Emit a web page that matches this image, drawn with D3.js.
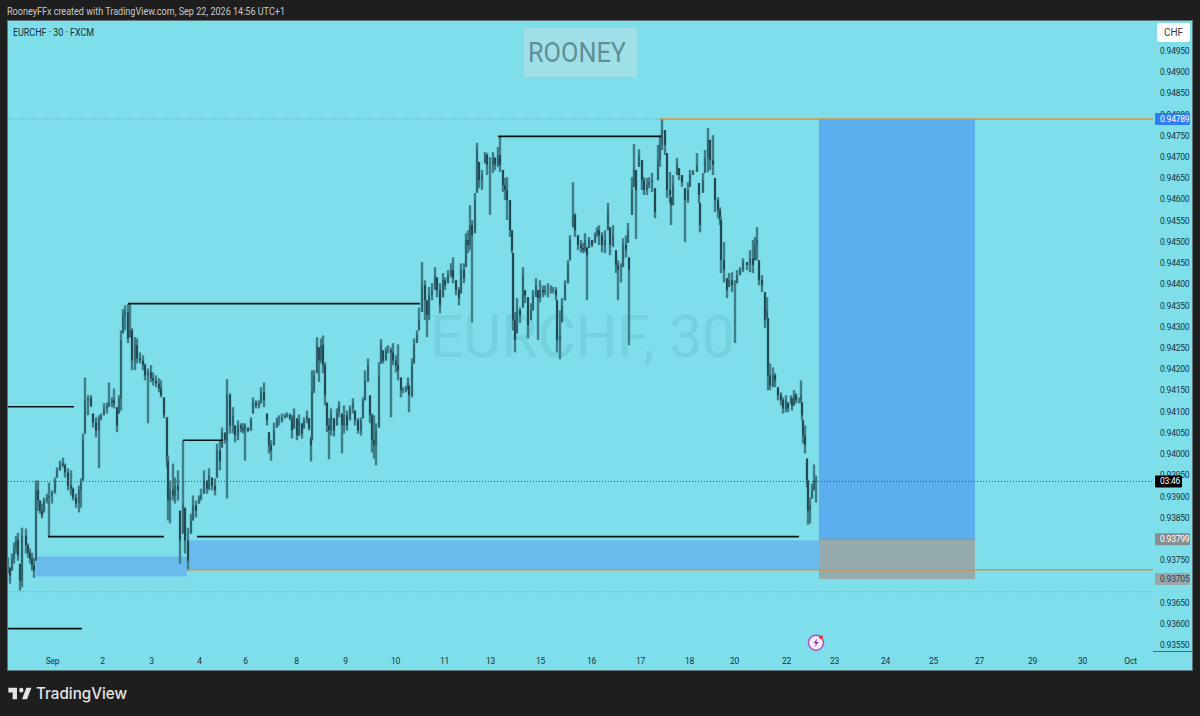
<!DOCTYPE html>
<html>
<head>
<meta charset="utf-8">
<title>EURCHF 30</title>
<script src="https://cdn.jsdelivr.net/npm/d3@7"></script>
<style>
  html, body { margin: 0; padding: 0; background: #1e1e1e; }
  svg { display: block; }
  text { font-family: Roboto, sans-serif; }
  .axis text { font-size: 8.5px; letter-spacing: -0.22px; fill: #16343b; }
  .axis path, .axis line { display: none; }
</style>
</head>
<body>
<div id="chart"></div>
<script>
// 30 minute EURCHF bars, prices in 1e-5 units
var barIndex = [
  0,2,4,6,8,10,12,14,18,20,
  22,24,26,28,30,32,34,36,39,41,
  44,47,49,52,55,57,60,63,65,68,
  71,73,75,77,80,83,85,88,91,93,
  96,99,101,104,106,109,111,113,115,117,
  120,122,124,127,129,132,135,137,140,143,
  145,148,151,153,156,159,160,162,165,167,
  170,172,175,177,180,183,185,188,191,193,
  196,199,201,204,207,209,212,214,217,219,
  222,225,227,230,233,235,237,240,243,245,
  248,251,253,256,259,261,263,266,269,271,
  274,277,279,282,284,286,289,291,294,296,
  299,301,303,304,306,309,311,313,315,317,
  319,321,323,326,329,331,334,336,339,342,
  345,347,350,353,355,357,360,362,364,366,
  368,371,373,375,378,380,383,385,388,390,
  393,395,398,400,401,404,406,409,411,414,
  417,419,421,424,427,429,432,435,437,440,
  443,445,448,451,453,456,458,460,462,464,
  467,469,471,474,477,479,482,485,487,490,
  492,495,497,499,502,504,505,507,509,512,
  515,517,520,523,525,528,530,532,535,537,
  540,543,545,548,549,552,554,557,560,562,
  565,567,570,573,575,577,579,581,584,587,
  589,591,594,597,600,602,605,608,610,613,
  615,618,620,621,624,626,628,631,634,636,
  639,641,644,647,650,652,654,657,659,662,
  663,665,669,671,674,677,680,682,685,689,
  691,692,695,697,700,702,705,707,710,712,
  713,716,719,721,724,727,729,732,735,739,
  742,745,747,749,751,754,757,759,760,762,
  765,767,770,773,775,778,780,783,784,786,
  788,791,793,794,795,797,799,800,802,804,
  806,808
];
var highs = [
  93756,93732,93765,93791,93807,93814,93741,93826,93824,93789,
  93777,93767,93755,93937,93937,93890,93883,93897,93906,93932,
  93914,93944,93968,93984,93991,93977,93966,93961,93921,93906,
  93925,93942,94048,94180,94138,94138,94095,94086,94091,94095,
  94119,94121,94168,94133,94154,94110,94138,94291,94341,94350,
  94353,94353,94296,94275,94272,94239,94232,94213,94201,94209,
  94192,94185,94178,94173,94133,94086,93996,93937,93977,93944,
  93961,93866,94032,93873,93826,93859,93902,93890,93902,93918,
  93961,93937,93966,93944,93942,94024,94032,94062,94050,94176,
  94143,94110,94067,94079,94072,94072,94072,94062,94086,94133,
  94126,94126,94157,94168,94095,94051,94032,94074,94086,94091,
  94095,94095,94098,94095,94091,94107,94084,94093,94072,94086,
  94102,94084,94039,94197,94197,94275,94251,94272,94279,94216,
  94121,94084,94107,94084,94107,94124,94095,94114,94102,94114,
  94131,94102,94084,94086,94133,94197,94225,94138,94095,94091,
  94072,94216,94270,94244,94251,94256,94251,94261,94232,94258,
  94180,94157,94161,94180,94161,94225,94272,94291,94345,94452,
  94409,94362,94393,94402,94440,94416,94402,94426,94416,94433,
  94449,94463,94409,94393,94449,94449,94520,94527,94586,94551,
  94615,94733,94688,94669,94711,94709,94699,94711,94699,94723,
  94747,94669,94650,94652,94598,94527,94473,94334,94367,94345,
  94440,94386,94369,94355,94386,94414,94386,94409,94397,94397,
  94402,94397,94393,94393,94362,94338,94367,94409,94456,94515,
  94640,94567,94515,94504,94497,94520,94487,94511,94504,94522,
  94534,94539,94522,94527,94591,94534,94539,94480,94456,94449,
  94508,94515,94544,94463,94652,94730,94669,94718,94692,94652,
  94650,94652,94662,94626,94728,94751,94789,94763,94709,94664,
  94605,94657,94697,94673,94657,94626,94640,94669,94669,94709,
  94638,94591,94662,94716,94768,94740,94751,94650,94605,94581,
  94558,94499,94414,94426,94428,94409,94433,94440,94461,94452,
  94480,94504,94511,94534,94456,94421,94381,94369,94320,94213,
  94204,94190,94157,94145,94133,94138,94121,94138,94131,94150,
  94143,94133,94173,94121,94079,94067,93989,93937,93897,93930,
  93975,93949
];
var lows = [
  93718,93694,93725,93741,93765,93748,93678,93685,93765,93755,
  93741,93725,93708,93748,93866,93859,93848,93862,93883,93807,
  93883,93906,93944,93961,93968,93944,93914,93902,93890,93873,
  93862,93873,93937,94048,94091,94110,94062,94039,93966,94079,
  94091,94095,94110,94110,94107,94051,94095,94102,94284,94291,
  94261,94275,94197,94197,94213,94213,94197,94173,94072,94169,
  94161,94157,94145,94133,94084,93968,93843,93836,93890,93883,
  93890,93741,93812,93765,93725,93812,93843,93850,93883,93890,
  93906,93906,93914,93914,93902,93944,93961,94015,94024,93895,
  94048,94048,94027,94032,94051,94048,93984,94051,94055,94095,
  94107,94107,94119,94110,94067,94001,93984,94020,94062,94067,
  94074,94084,94086,94079,94036,94060,94032,94043,94036,94060,
  94072,94055,93982,94032,94143,94190,94169,94213,94190,94114,
  94051,93987,94043,94041,94067,94086,94001,94048,94055,94079,
  94095,94067,94048,94043,94084,94126,94169,94072,94003,93989,
  93973,94062,94213,94213,94220,94237,94086,94209,94192,94173,
  94133,94143,94145,94150,94098,94133,94213,94261,94291,94334,
  94315,94275,94315,94362,94386,94369,94331,94369,94386,94402,
  94416,94402,94374,94350,94378,94402,94440,94473,94480,94310,
  94520,94615,94626,94622,94685,94657,94563,94662,94669,94676,
  94664,94617,94598,94551,94511,94473,94291,94239,94284,94308,
  94345,94355,94272,94315,94338,94369,94268,94357,94369,94374,
  94369,94378,94378,94362,94239,94223,94310,94362,94402,94456,
  94534,94511,94480,94475,94473,94475,94362,94485,94487,94497,
  94511,94492,94475,94473,94527,94468,94487,94426,94362,94404,
  94440,94463,94497,94256,94563,94629,94506,94676,94622,94610,
  94610,94626,94617,94555,94645,94676,94716,94704,94603,94591,
  94539,94586,94657,94645,94629,94499,94591,94629,94657,94664,
  94591,94522,94615,94662,94664,94669,94657,94570,94555,94539,
  94426,94404,94367,94393,94381,94261,94402,94421,94428,94433,
  94428,94426,94456,94456,94397,94381,94296,94320,94150,94150,
  94157,94157,94126,94114,94095,94098,94098,94119,94102,94114,
  94119,94119,94119,94079,94024,94001,93921,93833,93836,93895,
  93914,93885
];
var closes = [
  93737,93713,93753,93777,93796,93760,93701,93807,93784,93767,
  93753,93737,93725,93914,93890,93866,93855,93890,93897,93902,
  93909,93937,93961,93977,93973,93956,93925,93918,93897,93883,
  93914,93932,94032,94126,94131,94114,94074,94055,94084,94091,
  94107,94114,94121,94126,94119,94067,94131,94268,94327,94334,
  94272,94291,94220,94256,94225,94220,94209,94185,94192,94178,
  94173,94166,94154,94138,94091,93984,93890,93914,93902,93925,
  93914,93796,93880,93796,93748,93843,93878,93866,93895,93902,
  93937,93918,93949,93925,93914,94008,93984,94050,94032,94138,
  94067,94091,94043,94067,94060,94055,94067,94055,94079,94121,
  94114,94119,94145,94126,94079,94020,94008,94055,94079,94079,
  94084,94088,94091,94084,94055,94091,94043,94079,94048,94079,
  94091,94060,94020,94150,94185,94256,94220,94256,94209,94138,
  94067,94055,94091,94055,94098,94114,94067,94091,94067,94107,
  94119,94079,94055,94079,94126,94173,94209,94091,94032,94020,
  94055,94185,94256,94220,94244,94244,94239,94220,94209,94197,
  94150,94150,94154,94169,94138,94209,94256,94280,94315,94397,
  94362,94327,94374,94386,94421,94386,94350,94409,94397,94421,
  94433,94414,94386,94367,94433,94414,94504,94492,94539,94515,
  94598,94716,94645,94657,94704,94681,94681,94697,94681,94704,
  94681,94633,94622,94598,94527,94480,94315,94268,94338,94327,
  94421,94374,94303,94338,94374,94397,94367,94386,94381,94386,
  94386,94386,94386,94374,94268,94280,94350,94397,94445,94504,
  94563,94527,94492,94485,94480,94504,94468,94504,94492,94515,
  94527,94515,94492,94504,94574,94492,94515,94445,94433,94433,
  94492,94480,94527,94433,94622,94669,94622,94704,94645,94622,
  94633,94640,94645,94570,94692,94728,94763,94728,94622,94610,
  94586,94633,94681,94657,94640,94598,94622,94657,94664,94681,
  94610,94539,94645,94697,94740,94692,94681,94598,94574,94551,
  94456,94433,94386,94409,94397,94397,94421,94433,94452,94445,
  94461,94445,94492,94504,94409,94397,94315,94338,94185,94161,
  94185,94173,94138,94126,94107,94126,94107,94131,94114,94138,
  94126,94126,94138,94091,94043,94020,93937,93866,93878,93914,
  93937,93935
];

// axis labels
var priceTicks = [93550,93600,93650,93700,93750,93800,93850,93900,93950,94000,94050,94100,94150,94200,94250,94300,94350,94400,94450,94500,94550,94600,94650,94700,94750,94800,94850,94900,94950];
var dayBars = [44,94,143,191,237,288,337,387,436,482,532,583,632,681,726,778,826,877,925,971,1024,1074,1122];
var dayLabels = ["Sep","2","3","4","6","8","9","10","11","13","15","16","17","18","20","22","23","24","25","27","29","30","Oct"];

// drawings, [start bar, end bar, price]
var blackLevels = [
  [0, 66, 94111], [120, 412, 94354], [490, 653, 94748],
  [175, 215, 94032], [40, 156, 93805], [189, 791, 93805], [0, 74, 93588]
];
// zones, [start bar, end bar, top price, bottom price]
var zones = [[28, 179, 93758, 93711], [179, 811, 93796, 93727]];
var orangeLevels = [[652, 1145, 94789], [179, 1145, 93727]];
var dottedLevels = [[0, 652, 94789], [0, 1145, 93675]];
// long position tool
var positionBars = [811, 967];
var targetPrice = 94789, entryPrice = 93799, stopPrice = 93705;

var width = 1200, height = 716;
var svg = d3.select("#chart").append("svg").attr("width", width).attr("height", height);

var x = d3.scaleLinear().domain([0, 1145]).range([8, 1153]);
var y = d3.scaleLinear().domain([93550, 94950]).range([644.8, 50.7]);

// pane background
svg.append("rect").attr("x", 7.5).attr("y", 20.5).attr("width", 1185).attr("height", 650)
  .attr("fill", "#7edfeb").attr("stroke", "#5e7377");
svg.append("line").attr("x1", 1153).attr("x2", 1192).attr("y1", 651.5).attr("y2", 651.5).attr("stroke", "#3d6a75");

// header text
svg.append("text").attr("x", 7).attr("y", 15).attr("fill", "#c9c9c9").attr("font-size", 10.4)
  .attr("textLength", 278).attr("lengthAdjust", "spacingAndGlyphs")
  .text("RooneyFFx created with TradingView.com, Sep 22, 2026 14:56 UTC+1");
svg.append("text").attr("x", 13).attr("y", 35.5).attr("fill", "#12303a").attr("font-size", 10)
  .attr("textLength", 81).attr("lengthAdjust", "spacingAndGlyphs")
  .text("EURCHF · 30 · FXCM");

// watermarks
svg.append("text").attr("x", 430).attr("y", 357)
  .attr("textLength", 305).attr("lengthAdjust", "spacingAndGlyphs")
  .attr("fill", "#73d2dd").attr("font-size", 60).text("EURCHF, 30");
svg.append("rect").attr("x", 524).attr("y", 28).attr("width", 113).attr("height", 49).attr("fill", "#9fdfe8");
svg.append("text").attr("x", 528).attr("y", 61.5)
  .attr("textLength", 98).attr("lengthAdjust", "spacingAndGlyphs")
  .attr("fill", "#5f8e97").attr("font-size", 27).text("ROONEY");

// zones
svg.selectAll(".zone").data(zones).enter().append("rect")
  .attr("class", "zone")
  .attr("x", d => x(d[0])).attr("width", d => x(d[1]) - x(d[0]))
  .attr("y", d => y(d[2])).attr("height", d => y(d[3]) - y(d[2]))
  .attr("fill", "#69bbee");

// position tool
svg.append("rect").attr("x", x(positionBars[0])).attr("width", x(positionBars[1]) - x(positionBars[0]))
  .attr("y", y(targetPrice)).attr("height", y(entryPrice) - y(targetPrice)).attr("fill", "#5bafee");
svg.append("rect").attr("x", x(positionBars[0])).attr("width", x(positionBars[1]) - x(positionBars[0]))
  .attr("y", y(entryPrice)).attr("height", y(stopPrice) - y(entryPrice)).attr("fill", "#96abae");
svg.append("line").attr("x1", x(positionBars[0])).attr("x2", x(positionBars[1]))
  .attr("y1", y(entryPrice)).attr("y2", y(entryPrice)).attr("stroke", "#7f9094");

// faint dotted levels
svg.selectAll(".dotted").data(dottedLevels).enter().append("line")
  .attr("class", "dotted")
  .attr("x1", d => x(d[0])).attr("x2", d => x(d[1]))
  .attr("y1", d => y(d[2])).attr("y2", d => y(d[2]))
  .attr("stroke", "#4fa7b0").attr("stroke-dasharray", "1 2");

// candles, open taken from the previous close
var candles = svg.append("g");
barIndex.forEach(function (b, i) {
  var open = i > 0 ? closes[i - 1] : closes[0];
  var close = closes[i];
  var top = Math.min(highs[i], Math.max(open, close));
  var bot = Math.max(lows[i], Math.min(open, close));
  candles.append("line")
    .attr("x1", x(b)).attr("x2", x(b)).attr("y1", y(highs[i])).attr("y2", y(lows[i]))
    .attr("stroke", "#3f7e89").attr("stroke-width", 2.4);
  candles.append("line")
    .attr("x1", x(b)).attr("x2", x(b)).attr("y1", y(top)).attr("y2", y(bot))
    .attr("stroke", close < open ? "#10262c" : "#2f6570")
    .attr("stroke-width", close < open ? 1.2 : 2);
});

// current price line
var lastPrice = closes[closes.length - 1];
svg.append("line").attr("x1", x(0)).attr("x2", x(1145)).attr("y1", y(lastPrice)).attr("y2", y(lastPrice))
  .attr("stroke", "#2a5a66").attr("stroke-dasharray", "1 2");

// black horizontal levels
svg.selectAll(".level").data(blackLevels).enter().append("line")
  .attr("class", "level")
  .attr("x1", d => x(d[0])).attr("x2", d => x(d[1]))
  .attr("y1", d => y(d[2])).attr("y2", d => y(d[2]))
  .attr("stroke", "#0c1416").attr("stroke-width", 1.6);

// orange levels
svg.selectAll(".orange").data(orangeLevels).enter().append("line")
  .attr("class", "orange")
  .attr("x1", d => x(d[0])).attr("x2", d => x(d[1]))
  .attr("y1", d => y(d[2])).attr("y2", d => y(d[2]))
  .attr("stroke", "#d8923f").attr("stroke-width", 1.6);

// axes
svg.append("g").attr("class", "axis").attr("transform", "translate(1160,0)")
  .call(d3.axisRight(y).tickValues(priceTicks).tickSize(0).tickPadding(0)
    .tickFormat(d => (d / 1e5).toFixed(5)));
svg.append("g").attr("class", "axis").attr("transform", "translate(0,654)")
  .call(d3.axisBottom(x).tickValues(dayBars).tickSize(0).tickPadding(4)
    .tickFormat((d, i) => dayLabels[i]));

// currency button and price labels
svg.append("rect").attr("x", 1157).attr("y", 23).attr("width", 33).attr("height", 19).attr("rx", 3).attr("fill", "#ffffff");
svg.append("text").attr("x", 1173.5).attr("y", 36).attr("text-anchor", "middle")
  .attr("font-size", 10).attr("fill", "#3a3a3a").text("CHF");

function priceLabel(price, text, fill, w, color) {
  svg.append("rect").attr("x", 1155).attr("y", y(price) - 6).attr("width", w).attr("height", 12)
    .attr("rx", 1).attr("fill", fill);
  svg.append("text").attr("x", 1160).attr("y", y(price) + 3).attr("font-size", 8.5)
    .style("letter-spacing", "-0.22px").attr("fill", color).text(text);
}
priceLabel(targetPrice, "0.94789", "#2e7ef2", 35, "#ffffff");
priceLabel(lastPrice, "03:46", "#000000", 27, "#ffffff");
priceLabel(entryPrice, "0.93799", "#868e90", 35, "#ffffff");
priceLabel(stopPrice, "0.93705", "#9ba6a8", 35, "#2d4248");

// lightning badge
var badge = svg.append("g").attr("transform", "translate(816,642.7)");
badge.append("circle").attr("r", 7.5).attr("fill", "#f4eef6").attr("stroke", "#b44cc8").attr("stroke-width", 1.4);
badge.append("path").attr("d", "M1.5,-4.5 L-2.5,0.5 L0,0.5 L-1.5,4.5 L2.8,-0.8 L0.2,-0.8 Z").attr("fill", "#8a2fb0");
badge.append("circle").attr("cx", 5).attr("cy", -5.5).attr("r", 2).attr("fill", "#f0373c");

// footer logo
svg.append("path").attr("transform", "translate(6.9,683.2) scale(0.72,0.77)")
  .attr("d", "M14 6H2v6h6v9h6V6Zm14 15h-7l6-15h7l-6 15Zm-8-9a3 3 0 1 0 0-6 3 3 0 0 0 0 6Z")
  .attr("fill", "#e4e4e4");
svg.append("text").attr("x", 36).attr("y", 699).attr("font-size", 16).attr("font-weight", 500)
  .attr("textLength", 91).attr("lengthAdjust", "spacingAndGlyphs")
  .style("font-family", "Inter, sans-serif").attr("fill", "#e4e4e4").text("TradingView");
</script>
</body>
</html>
